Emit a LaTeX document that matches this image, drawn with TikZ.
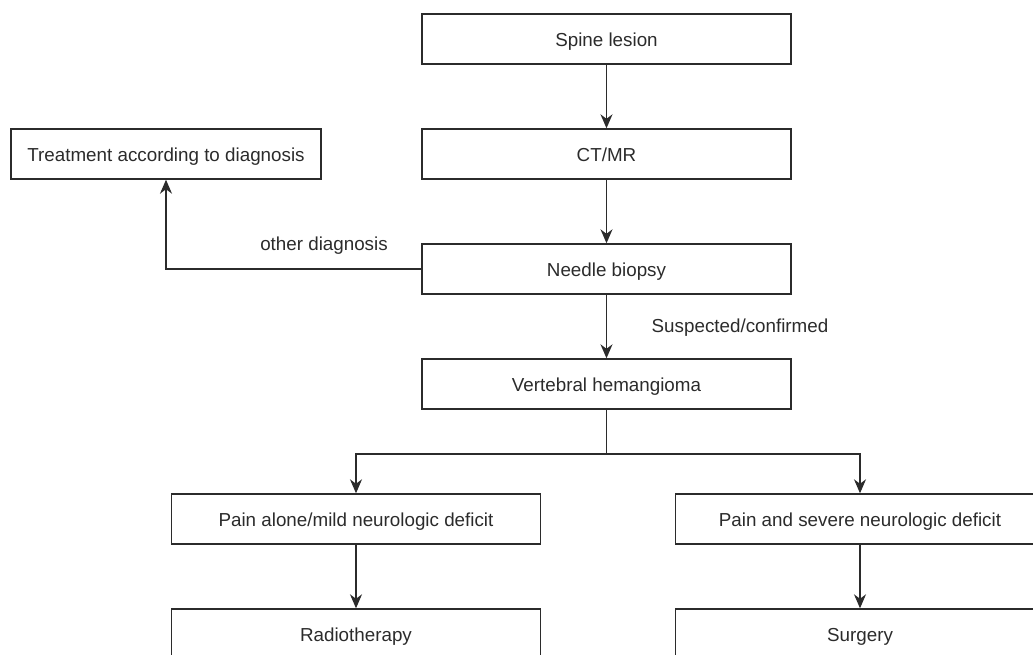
\documentclass[tikz,border=0pt]{standalone}
\usepackage{fontspec}
\setmainfont{Liberation Sans}
\usetikzlibrary{arrows.meta}
\definecolor{ink}{HTML}{2B2B2B}
\tikzset{
  box/.style={draw=ink, line width=1.4pt, minimum height=50pt, inner sep=0pt, text height=16pt, text depth=2pt, text=ink, font=\fontsize{18.8}{22}\selectfont},
  mainbox/.style={box, minimum width=369pt},
  treatbox/.style={box, minimum width=310pt},
  conn/.style={draw=ink, line width=1.4pt},
  arr/.style={conn, -{Stealth[length=14pt, width=12pt, inset=4.5pt]}},
  lbl/.style={text=ink, font=\fontsize{18.8}{22}\selectfont, inner sep=0pt}
}
\begin{document}
\begin{tikzpicture}[x=1pt, y=-1pt]
\clip (0,0) rectangle (1033,654);
\node[mainbox] (spine) at (606.5,39) {Spine lesion};
\node[mainbox] (ctmr) at (606.5,154) {CT/MR};
\node[mainbox] (needle) at (606.5,269) {Needle biopsy};
\node[mainbox] (vh) at (606.5,384) {Vertebral hemangioma};
\node[treatbox] (treat) at (166,154) {Treatment according to diagnosis};
\node[mainbox] (painL) at (356,519) {Pain alone/mild neurologic deficit};
\node[mainbox] (painR) at (860,519) {Pain and severe neurologic deficit};
\node[mainbox] (radio) at (356,634) {Radiotherapy};
\node[mainbox] (surg) at (860,634) {Surgery};
\coordinate (split) at (606.5,454);
\coordinate (otherturn) at (166,269);

\draw[arr] (spine) -- (ctmr);
\draw[arr] (ctmr) -- (needle);
\draw[arr] (needle) -- (vh);
\draw[arr] (needle.west) -- (otherturn) -- (treat.south);
\draw[conn] (vh.south) -- (split);
\draw[arr] (split) -| (painL.north);
\draw[arr] (split) -| (painR.north);
\draw[arr] (painL) -- (radio);
\draw[arr] (painR) -- (surg);

\node[lbl] (lother) at (324,246) {other diagnosis};
\node[lbl] (lsusp) at (740,328) {Suspected/confirmed};
\end{tikzpicture}
\end{document}
